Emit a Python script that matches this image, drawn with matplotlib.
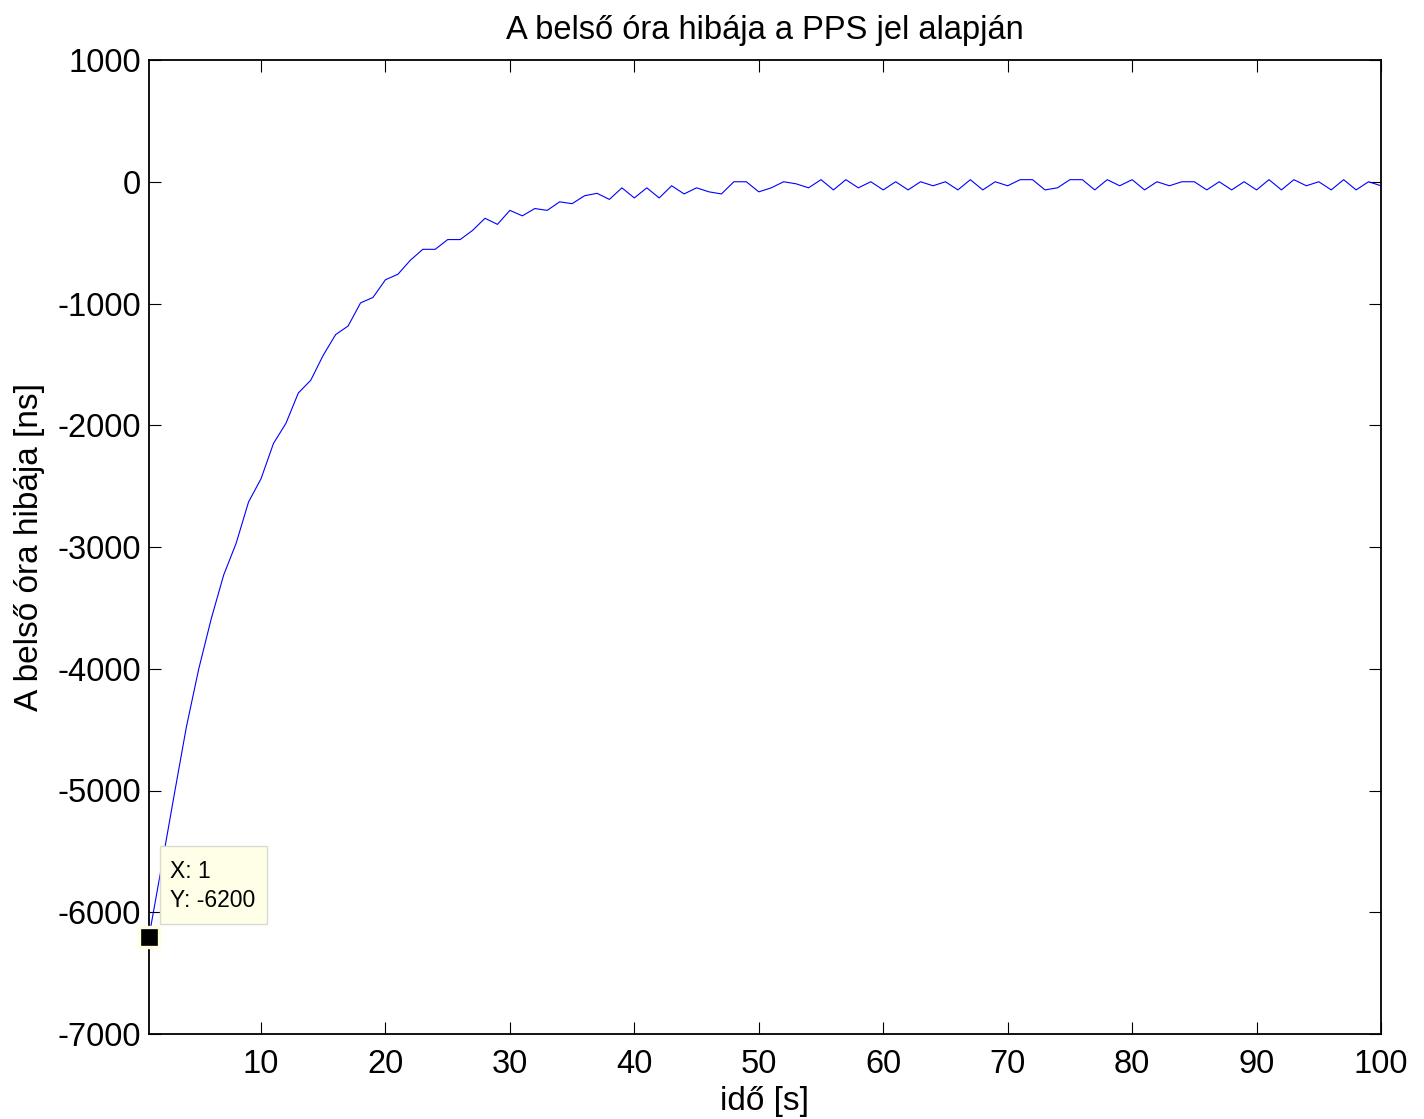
import matplotlib
matplotlib.use("Agg")
import matplotlib.pyplot as plt
from matplotlib.patches import Rectangle

plt.rcParams['font.family'] = ['Liberation Sans', 'DejaVu Sans']

# Time axis (seconds) and the measured clock error (ns) for each second
time_s = list(range(1, 101))
error_ns = [
    -6200, -5630, -5050, -4480, -4000, -3590, -3230, -2970, -2630, -2440,
    -2150, -1985, -1735, -1630, -1425, -1255, -1185, -995, -950, -805,
    -760, -645, -555, -555, -475, -475, -400, -300, -350, -235,
    -280, -220, -235, -165, -180, -115, -95, -145, -50, -133,
    -50, -133, -33, -100, -50, -83, -100, 0, 0, -83,
    -50, 0, -17, -50, 17, -67, 17, -50, 0, -67,
    0, -67, 0, -33, 0, -67, 17, -67, 0, -33,
    17, 17, -67, -50, 17, 17, -67, 17, -33, 17,
    -67, 0, -33, 0, 0, -67, 0, -67, 0, -67,
    17, -67, 17, -33, 0, -67, 17, -67, 0, -33,
]

x_ticks = list(range(10, 101, 10))
y_ticks = list(range(-7000, 1001, 1000))

tip_x = 1
tip_y = -6200

fig = plt.figure(figsize=(14.24, 11.19), dpi=100)
ax = fig.add_axes([149 / 1424, 85 / 1119, 1232 / 1424, 974 / 1119])

ax.plot(time_s, error_ns, color='#0000FF', linewidth=0.8)

ax.set_xlim(1, 100)
ax.set_ylim(-7000, 1000)
ax.set_xticks(x_ticks)
ax.set_yticks(y_ticks)
ax.set_yticklabels([str(v) for v in y_ticks])

ax.tick_params(direction='in', length=8.5, width=0.8, labelsize=23.5,
               top=True, right=True, colors='black')
ax.tick_params(axis='x', pad=11)
ax.tick_params(axis='y', pad=6)
for sp in ax.spines.values():
    sp.set_linewidth(1.3)
    sp.set_color('black')

ax.set_title('A belső óra hibája a PPS jel alapján', fontsize=23.5, pad=15)
ax.set_xlabel('idő [s]', fontsize=24, labelpad=4)
ax.set_ylabel('A belső óra hibája [ns]', fontsize=24, labelpad=9)

# Data tip box
ax.add_patch(Rectangle((1.88, -6097), 8.6, 641, facecolor='#FFFFE8',
                       edgecolor='#D9D9CC', linewidth=1.0, zorder=5))
ax.text(2.7, -5663, f'X: {tip_x}', fontsize=16.5, va='center', ha='left', zorder=6)
ax.text(2.7, -5901, f'Y: {tip_y}', fontsize=16.5, va='center', ha='left', zorder=6)
ax.plot([tip_x], [tip_y], marker='s', markersize=14.5, markerfacecolor='black',
        markeredgecolor='#FFFFE0', markeredgewidth=2.4, clip_on=False, zorder=7)

fig.savefig('out.png', dpi=100)
